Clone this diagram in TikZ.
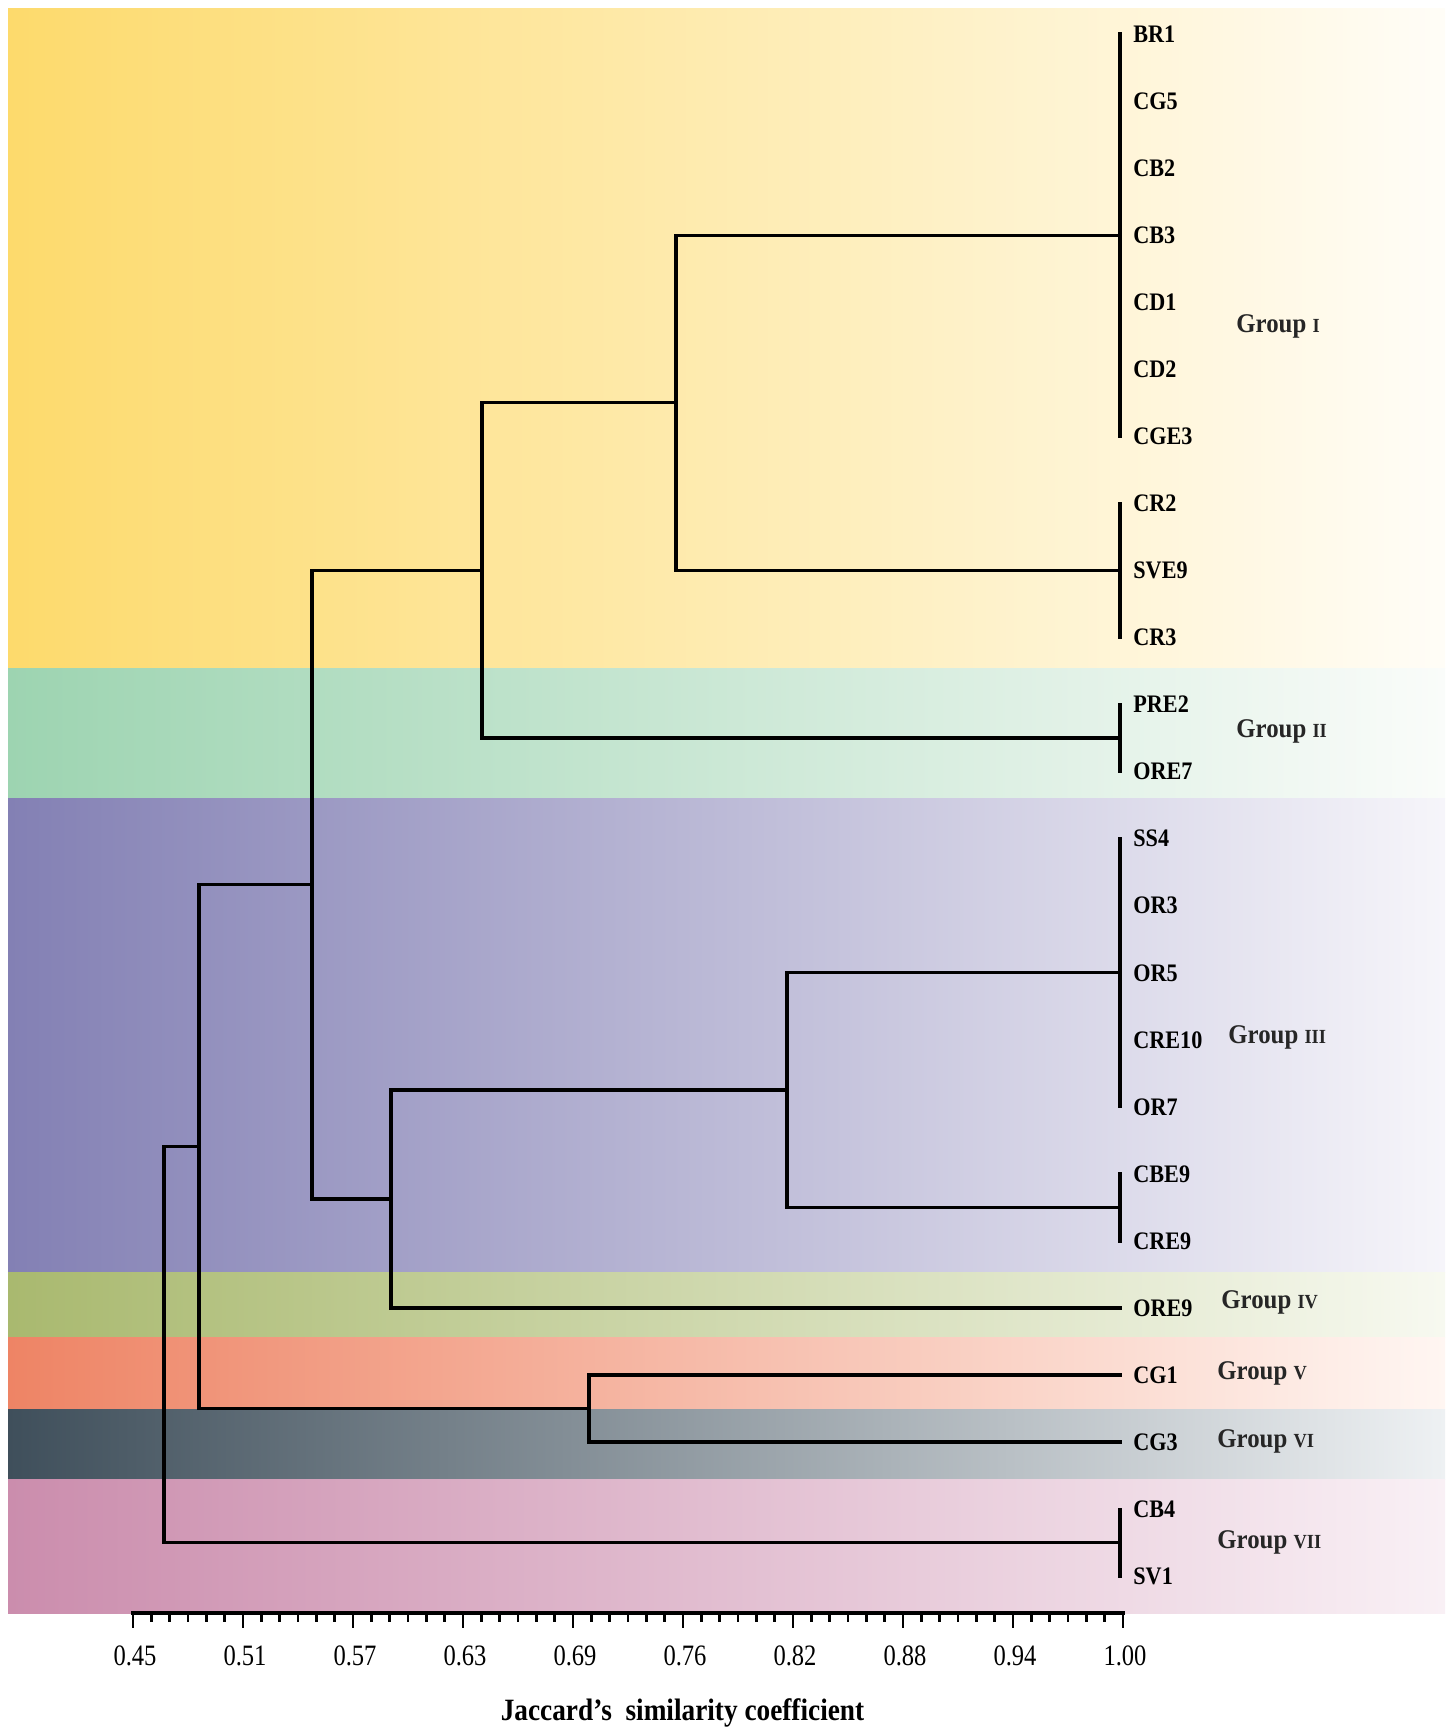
\documentclass[tikz,border=0pt]{standalone}
\usepackage{fontspec}
\setmainfont{Liberation Serif}
\newfontfamily\condfont{Liberation Serif}[FakeStretch=0.88]
\newfontfamily\grpfont{Liberation Serif}[FakeStretch=0.92]
\newfontfamily\tickfont{Liberation Serif}[FakeStretch=0.83]
\usetikzlibrary{positioning}
\newcommand\grpnum{\fontsize{10}{12}\selectfont}

\definecolor{bandI}{HTML}{FDDA6C}   \definecolor{bandIr}{HTML}{FFFDF7}
\definecolor{bandII}{HTML}{9DD4B1}  \definecolor{bandIIr}{HTML}{FAFCFA}
\definecolor{bandIII}{HTML}{8380B4} \definecolor{bandIIIr}{HTML}{F6F5FA}
\definecolor{bandIV}{HTML}{A9B96F}  \definecolor{bandIVr}{HTML}{F7F9F0}
\definecolor{bandV}{HTML}{EE8465}   \definecolor{bandVr}{HTML}{FFF6F2}
\definecolor{bandVI}{HTML}{3F4F5B}  \definecolor{bandVIr}{HTML}{EEF1F3}
\definecolor{bandVII}{HTML}{CB8DAD} \definecolor{bandVIIr}{HTML}{F9F0F5}

\tikzset{
  branch/.style={line width=1.6pt,line cap=rect},
  tick/.style={line width=1.3pt},
  leaf/.style={anchor=west,inner sep=0pt,text height=8.3pt,text depth=0pt,
    font=\condfont\bfseries\fontsize{12.6}{14}\selectfont},
  grp/.style={anchor=base west,inner sep=0pt,text=black!85,
    font=\grpfont\bfseries\fontsize{13.5}{15}\selectfont},
  ticklab/.style={anchor=base,inner sep=0pt,font=\tickfont\fontsize{14.8}{16}\selectfont}
}

\begin{document}
\begin{tikzpicture}[x=0.5pt,y=-0.5pt]
\useasboundingbox (0,0) rectangle (1445,1727);
% colour bands, one per group
\shade[left color=bandI,right color=bandIr] (8,9) rectangle (1445,668);
\shade[left color=bandII,right color=bandIIr] (8,668) rectangle (1445,798);
\shade[left color=bandIII,right color=bandIIIr] (8,798) rectangle (1445,1272);
\shade[left color=bandIV,right color=bandIVr] (8,1272) rectangle (1445,1337);
\shade[left color=bandV,right color=bandVr] (8,1337) rectangle (1445,1409);
\shade[left color=bandVI,right color=bandVIr] (8,1409) rectangle (1445,1479);
\shade[left color=bandVII,right color=bandVIIr] (8,1479) rectangle (1445,1613);

% leaves
\foreach \nm [count=\i from 0] in {BR1,CG5,CB2,CB3,CD1,CD2,CGE3,CR2,SVE9,CR3,PRE2,ORE7,
    SS4,OR3,OR5,CRE10,OR7,CBE9,CRE9,ORE9,CG1,CG3,CB4,SV1}{
  \coordinate (t\nm) at (1120,34+67.05*\i);
  \node[leaf,right=6.5pt of t\nm] (\nm) {\nm};
}

% joins
\coordinate (g1) at (1120,235.2);
\coordinate (g1b) at (1120,570.4);
\coordinate (c1) at (676,402.8);
\coordinate (g2) at (1120,738);
\coordinate (c2) at (482,570.4);
\coordinate (g3) at (1120,972.7);
\coordinate (g3b) at (1120,1207.4);
\coordinate (c3) at (787,1090);
\coordinate (c4) at (391,1199);
\coordinate (c5) at (312,884.7);
\coordinate (c6) at (589,1408.6);
\coordinate (c7) at (199,1146.6);
\coordinate (g7) at (1120,1542.6);
\coordinate (c8) at (164,1344.6);

\foreach \c in {BR1,CG5,CB2,CB3,CD1,CD2,CGE3} \draw[branch] (g1) |- (t\c);
\foreach \c in {CR2,SVE9,CR3} \draw[branch] (g1b) |- (t\c);
\foreach \c in {PRE2,ORE7} \draw[branch] (g2) |- (t\c);
\foreach \c in {SS4,OR3,OR5,CRE10,OR7} \draw[branch] (g3) |- (t\c);
\foreach \c in {CBE9,CRE9} \draw[branch] (g3b) |- (t\c);
\foreach \c in {CB4,SV1} \draw[branch] (g7) |- (t\c);
\draw[branch] (c1) |- (g1) (c1) |- (g1b);
\draw[branch] (c2) |- (c1) (c2) |- (g2);
\draw[branch] (c3) |- (g3) (c3) |- (g3b);
\draw[branch] (c4) |- (c3) (c4) |- (tORE9);
\draw[branch] (c5) |- (c2) (c5) |- (c4);
\draw[branch] (c6) |- (tCG1) (c6) |- (tCG3);
\draw[branch] (c7) |- (c5) (c7) |- (c6);
\draw[branch] (c8) |- (c7) (c8) |- (g7);

% group names
\node[grp] (grpI) at (1236,333) {Group {\grpnum I}};
\node[grp] (grpII) at (1236,737) {Group {\grpnum II}};
\node[grp] (grpIII) at (1228,1043) {Group {\grpnum III}};
\node[grp] (grpIV) at (1221,1308) {Group {\grpnum IV}};
\node[grp] (grpV) at (1217,1379) {Group {\grpnum V}};
\node[grp] (grpVI) at (1217,1447) {Group {\grpnum VI}};
\node[grp] (grpVII) at (1217,1548) {Group {\grpnum VII}};

% scale
\coordinate (ax0) at (133,1613);
\coordinate (ax1) at (1123,1613);
\draw[branch] (ax0) -- (ax1);
\foreach \i in {0,...,54} \draw[tick] (133+18.333*\i,1613) -- ++(0,9);
\foreach \v [count=\i from 0] in {0.45,0.51,0.57,0.63,0.69,0.76,0.82,0.88,0.94,1.00}{
  \draw[tick] (133+110*\i,1613) -- ++(0,15);
  \node[ticklab] (tk\i) at (135+110*\i,1665) {\v};
}
\node[anchor=base,inner sep=0pt,font=\condfont\bfseries\fontsize{15.5}{17}\selectfont]
  (xtitle) at (682.5,1720) {Jaccard’s\ \ similarity coefficient};
\end{tikzpicture}
\end{document}
